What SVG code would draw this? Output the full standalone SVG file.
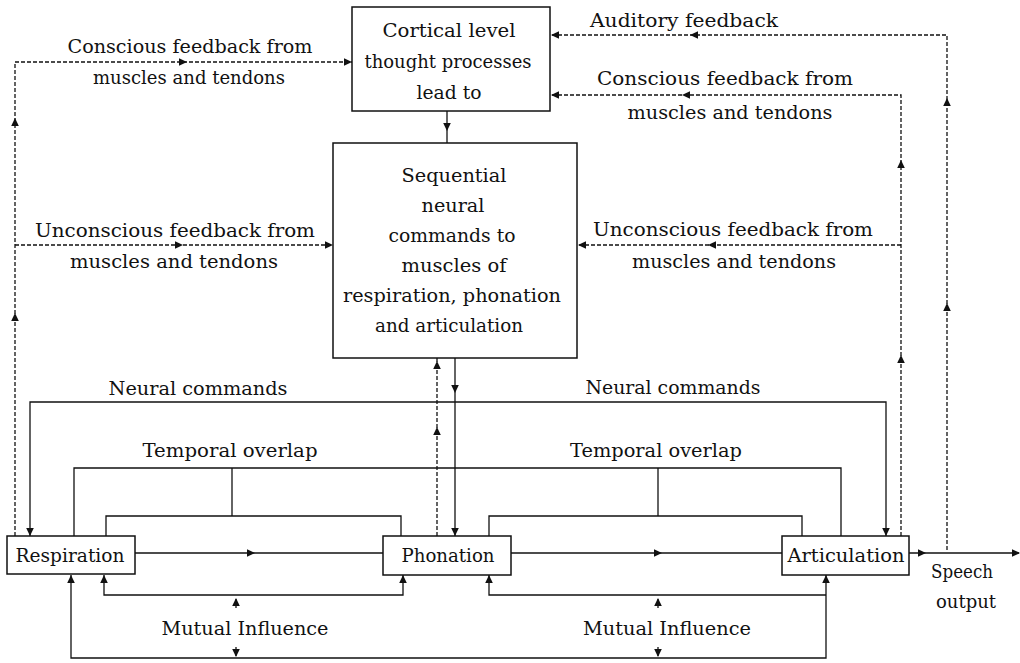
<svg xmlns="http://www.w3.org/2000/svg" xmlns:xlink="http://www.w3.org/1999/xlink" width="1020" height="663" viewBox="0 0 1020 663">
  <style>
    .box { fill: #fff; stroke: #111; stroke-width: 1.5; }
    .ln { fill: none; stroke: #111; stroke-width: 1.3; }
    .dash { fill: none; stroke: #111; stroke-width: 1.3; stroke-dasharray: 4 2; }
    .ah { fill: #111; }
    text { font-family: "DejaVu Serif", "Liberation Serif", serif; font-size: 19px; fill: #111; text-anchor: middle; }
  </style>
  <defs>
    <!-- arrowhead pointing right, tip at the origin -->
    <path id="ar" class="ah" d="M0 0 L-8 -3.8 L-8 3.8 Z"/>
  </defs>

  <rect width="1020" height="663" fill="#fff"/>

  <g id="connectors">
    <!-- left feedback (dashed) -->
    <polyline class="dash" points="15,536 15,62 352,62"/>
    <line class="dash" x1="15" y1="245" x2="333" y2="245"/>
    <!-- right feedback (dashed) -->
    <polyline class="dash" points="901,536 901,95 550,95"/>
    <line class="dash" x1="901" y1="245" x2="577" y2="245"/>
    <polyline class="dash" points="947,550 947,35 550,35"/>
    <!-- cortical to sequential commands -->
    <line class="ln" x1="447" y1="111" x2="447" y2="143"/>
    <!-- phonation feedback up, commands down -->
    <line class="dash" x1="437" y1="536" x2="437" y2="358"/>
    <line class="ln" x1="455" y1="358" x2="455" y2="536"/>
    <!-- neural commands -->
    <polyline class="ln" points="30,536 30,402 886,402 886,536"/>
    <!-- temporal overlap -->
    <polyline class="ln" points="74,536 74,468 841,468 841,536"/>
    <line class="ln" x1="232" y1="468" x2="232" y2="516"/>
    <polyline class="ln" points="106,536 106,516 401,516 401,536"/>
    <line class="ln" x1="658" y1="468" x2="658" y2="516"/>
    <polyline class="ln" points="489,536 489,516 802,516 802,536"/>
    <!-- main chain -->
    <line class="ln" x1="135" y1="553" x2="383" y2="553"/>
    <line class="ln" x1="511" y1="553" x2="782" y2="553"/>
    <line class="ln" x1="909" y1="553" x2="1019" y2="553"/>
    <!-- mutual influence -->
    <polyline class="ln" points="104,575 104,595 403,595 403,575"/>
    <polyline class="ln" points="71,575 71,658 826,658 826,575"/>
    <polyline class="ln" points="489,575 489,595 826,595"/>
    <line class="ln" x1="236" y1="599" x2="236" y2="608"/>
    <line class="ln" x1="236" y1="647" x2="236" y2="656"/>
    <line class="ln" x1="658" y1="599" x2="658" y2="608"/>
    <line class="ln" x1="658" y1="647" x2="658" y2="656"/>

    <!-- arrowheads -->
    <use xlink:href="#ar" transform="translate(15,118) rotate(-90)"/>
    <use xlink:href="#ar" transform="translate(15,313) rotate(-90)"/>
    <use xlink:href="#ar" transform="translate(187,62)"/>
    <use xlink:href="#ar" transform="translate(352,62)"/>
    <use xlink:href="#ar" transform="translate(183,245)"/>
    <use xlink:href="#ar" transform="translate(333,245)"/>
    <use xlink:href="#ar" transform="translate(551,35) rotate(180)"/>
    <use xlink:href="#ar" transform="translate(690,35) rotate(180)"/>
    <use xlink:href="#ar" transform="translate(551,95) rotate(180)"/>
    <use xlink:href="#ar" transform="translate(682,95) rotate(180)"/>
    <use xlink:href="#ar" transform="translate(578,245) rotate(180)"/>
    <use xlink:href="#ar" transform="translate(708,245) rotate(180)"/>
    <use xlink:href="#ar" transform="translate(947,98) rotate(-90)"/>
    <use xlink:href="#ar" transform="translate(947,303) rotate(-90)"/>
    <use xlink:href="#ar" transform="translate(901,160) rotate(-90)"/>
    <use xlink:href="#ar" transform="translate(901,355) rotate(-90)"/>
    <use xlink:href="#ar" transform="translate(447,131) rotate(90)"/>
    <use xlink:href="#ar" transform="translate(437,361) rotate(-90)"/>
    <use xlink:href="#ar" transform="translate(437,427) rotate(-90)"/>
    <use xlink:href="#ar" transform="translate(455,393) rotate(90)"/>
    <use xlink:href="#ar" transform="translate(455,536) rotate(90)"/>
    <use xlink:href="#ar" transform="translate(30,536) rotate(90)"/>
    <use xlink:href="#ar" transform="translate(886,536) rotate(90)"/>
    <use xlink:href="#ar" transform="translate(255,553)"/>
    <use xlink:href="#ar" transform="translate(662,553)"/>
    <use xlink:href="#ar" transform="translate(926,553)"/>
    <use xlink:href="#ar" transform="translate(1020,553)"/>
    <use xlink:href="#ar" transform="translate(104,575) rotate(-90)"/>
    <use xlink:href="#ar" transform="translate(403,575) rotate(-90)"/>
    <use xlink:href="#ar" transform="translate(71,575) rotate(-90)"/>
    <use xlink:href="#ar" transform="translate(489,575) rotate(-90)"/>
    <use xlink:href="#ar" transform="translate(826,575) rotate(-90)"/>
    <use xlink:href="#ar" transform="translate(236,598) rotate(-90)"/>
    <use xlink:href="#ar" transform="translate(236,657) rotate(90)"/>
    <use xlink:href="#ar" transform="translate(658,598) rotate(-90)"/>
    <use xlink:href="#ar" transform="translate(658,657) rotate(90)"/>
  </g>

  <g id="labels">
    <text x="190" y="53" textLength="245" lengthAdjust="spacingAndGlyphs">Conscious feedback from</text>
    <text x="189" y="84" textLength="192" lengthAdjust="spacingAndGlyphs">muscles and tendons</text>
    <text x="684" y="27" textLength="188" lengthAdjust="spacingAndGlyphs">Auditory feedback</text>
    <text x="725" y="85" textLength="256" lengthAdjust="spacingAndGlyphs">Conscious feedback from</text>
    <text x="730" y="119" textLength="205" lengthAdjust="spacingAndGlyphs">muscles and tendons</text>
    <text x="175" y="237" textLength="280" lengthAdjust="spacingAndGlyphs">Unconscious feedback from</text>
    <text x="174" y="268" textLength="208" lengthAdjust="spacingAndGlyphs">muscles and tendons</text>
    <text x="733" y="236" textLength="280" lengthAdjust="spacingAndGlyphs">Unconscious feedback from</text>
    <text x="734" y="268" textLength="204" lengthAdjust="spacingAndGlyphs">muscles and tendons</text>
    <text x="198" y="395" textLength="179" lengthAdjust="spacingAndGlyphs">Neural commands</text>
    <text x="673" y="394" textLength="175" lengthAdjust="spacingAndGlyphs">Neural commands</text>
    <text x="230" y="457" textLength="175" lengthAdjust="spacingAndGlyphs">Temporal overlap</text>
    <text x="656" y="457" textLength="172" lengthAdjust="spacingAndGlyphs">Temporal overlap</text>
    <text x="245" y="635" textLength="167" lengthAdjust="spacingAndGlyphs">Mutual Influence</text>
    <text x="667" y="635" textLength="168" lengthAdjust="spacingAndGlyphs">Mutual Influence</text>
    <text x="962" y="578" textLength="62" lengthAdjust="spacingAndGlyphs">Speech</text>
    <text x="966" y="608" textLength="60" lengthAdjust="spacingAndGlyphs">output</text>
  </g>

  <g id="cortical">
    <rect class="box" x="352" y="7" width="198" height="104"/>
    <text x="449" y="37" textLength="133" lengthAdjust="spacingAndGlyphs">Cortical level</text>
    <text x="448" y="68" textLength="167" lengthAdjust="spacingAndGlyphs">thought processes</text>
    <text x="449" y="99" textLength="65" lengthAdjust="spacingAndGlyphs">lead to</text>
  </g>

  <g id="sequential">
    <rect class="box" x="333" y="143" width="244" height="215"/>
    <text x="454" y="182" textLength="105" lengthAdjust="spacingAndGlyphs">Sequential</text>
    <text x="453" y="212" textLength="63" lengthAdjust="spacingAndGlyphs">neural</text>
    <text x="452" y="242" textLength="127" lengthAdjust="spacingAndGlyphs">commands to</text>
    <text x="454" y="272" textLength="105" lengthAdjust="spacingAndGlyphs">muscles of</text>
    <text x="452" y="302" textLength="218" lengthAdjust="spacingAndGlyphs">respiration, phonation</text>
    <text x="449" y="332" textLength="148" lengthAdjust="spacingAndGlyphs">and articulation</text>
  </g>

  <g id="respiration">
    <rect class="box" x="7" y="536" width="128" height="38"/>
    <text x="70" y="562" textLength="109" lengthAdjust="spacingAndGlyphs">Respiration</text>
  </g>

  <g id="phonation">
    <rect class="box" x="383" y="536" width="128" height="39"/>
    <text x="448" y="562" textLength="93" lengthAdjust="spacingAndGlyphs">Phonation</text>
  </g>

  <g id="articulation">
    <rect class="box" x="782" y="536" width="127" height="39"/>
    <text x="846" y="562" textLength="117" lengthAdjust="spacingAndGlyphs">Articulation</text>
  </g>
</svg>
